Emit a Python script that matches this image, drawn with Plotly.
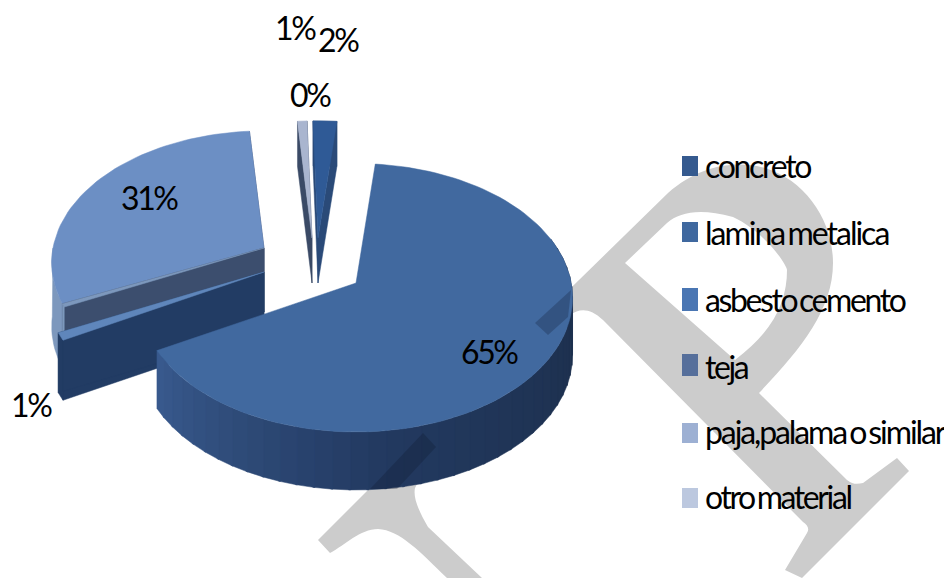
import math
import plotly.graph_objects as go

categories = ['concreto', 'lamina metalica', 'asbesto cemento', 'teja', 'paja,palama o similar', 'otro material']
values = [2, 65.4, 0.9, 0.4, 30.5, 0.8]
labels = ['2%', '65%', '1%', '0%', '31%', '1%']

legend_colors = ['#355a8f', '#3f689f', '#4a76b3', '#566f9b', '#9db0d3', '#bcc8df']
top_colors = ['#2f5a96', '#41699f', '#5f86bb', '#7d98bd', '#6c8fc4', '#a9b5cf']
cut_colors = ['#2a4a78', '#2a4672', '#223c64', '#3c4e6e', '#3c4e6e', '#3a4a66']
side_colors = ['#2a4a78', '#2a4672', '#223c64', '#7d98bd', '#7d98bd', '#3a4a66']

# where each slice was pulled to, in pixels, with its size and wall height
apex = [(318, 238), (356, 283), (264, 272), (264, 248), (264, 248), (312, 238)]
radius = [1, 1.02, 1.03, 1, 1, 1]
depth = [45, 58, 60, 64, 64, 45]

A, B, K, ROT = 211, 130, 0.11, -1.5
FONT = 'Lato'
PAGE_MARGIN = 8  # the page body keeps its default margin


def rim(ax, ay, deg, r=1):
    t = math.radians(deg)
    s = r / (1 + K * math.cos(t))
    return ax + A * math.sin(t) * s, ay - B * math.cos(t) * s


def poly(fig, pts, color):
    xs = [p[0] for p in pts] + [pts[0][0]]
    ys = [p[1] for p in pts] + [pts[0][1]]
    fig.add_trace(go.Scatter(x=xs, y=ys, mode='lines', fill='toself', fillcolor=color,
                             line=dict(color=color, width=0.5), hoverinfo='skip', showlegend=False))


def arc(ax, ay, d0, d1, r=1):
    n = max(2, int(abs(d1 - d0) / 2) + 1)
    return [rim(ax, ay, d0 + (d1 - d0) * i / (n - 1), r) for i in range(n)]


def mix(c0, c1, f):
    a = [int(c0[i:i + 2], 16) for i in (1, 3, 5)]
    b = [int(c1[i:i + 2], 16) for i in (1, 3, 5)]
    return '#%02x%02x%02x' % tuple(round(a[i] + (b[i] - a[i]) * f) for i in range(3))


# slice angles come from the values
angles = []
run = 0
for v in values:
    angles.append((run * 3.6 + ROT, (run + v) * 3.6 + ROT))
    run += v

fig = go.Figure()

# painter order, back to front
for i in [5, 0, 4, 3, 2]:
    ax, ay = apex[i]
    d0, d1 = angles[i]
    h = depth[i]
    r = radius[i]
    # cut faces
    for d in (d0, d1):
        x, y = rim(ax, ay, d, r)
        poly(fig, [(x, y), (x, y + h), (ax, ay + h), (ax, ay)], cut_colors[i])
    # outer wall
    if d0 < 270:
        wall = arc(ax, ay, d0, min(d1, 270), r)
        poly(fig, wall + [(x, y + h) for x, y in reversed(wall)], side_colors[i])
    poly(fig, [(ax, ay)] + arc(ax, ay, d0, d1, r), top_colors[i])

# lamina last, its wall shaded in strips
ax, ay = apex[1]
d0, d1 = angles[1]
h = depth[1]
r = radius[1]
w0, w1 = 70, d1
steps = 40
for j in range(steps):
    a0 = w0 + (w1 - w0) * j / steps
    a1 = w0 + (w1 - w0) * (j + 1) / steps + 0.5
    f = j / (steps - 1)
    col = mix('#1b2c47', '#22395f', f / 0.6) if f < 0.6 else mix('#22395f', '#38598d', (f - 0.6) / 0.4)
    wall = arc(ax, ay, a0, min(a1, w1), r)
    poly(fig, wall + [(x, y + h) for x, y in reversed(wall)], col)
poly(fig, [(ax, ay)] + arc(ax, ay, d0, d1, r), top_colors[1])

# watermark letter, behind the pie
watermark = ('M535,323 L668,193 C700,165 735,160 765,168 C805,180 833,220 833,263 '
             'C833,310 800,350 759,393 L847,480 C853,485 858,484 863,483 L897,458 L909,471 '
             'L802,578 L785,570 L807,533 C810,528 807,525 803,522 L603,320 C590,308 580,308 570,315 '
             'L548,335 L436,447 L415,488 C413,497 418,510 428,527 L482,578 L447,578 '
             'C420,552 400,530 378,529 C360,529 345,545 330,553 L318,540 Z '
             'M625,263 L735,360 C775,330 787,300 787,270 C787,265 765,232 733,217 '
             'C700,208 680,212 667,223 Z')
shapes = [dict(type='path', path=watermark, fillcolor='#cccccc', line_width=0, layer='below')]
# the two places where it shows through the pie
for p in ['M535,323 L548,335 L568,317 L571,290 Z', 'M423,433 L436,447 L397,489 L370,489 Z']:
    shapes.append(dict(type='path', path=p, fillcolor='rgba(10,20,40,0.25)', line_width=0, layer='above'))

# legend keys
key_y = [(156, 176), (222, 242), (288, 311), (354, 376), (423, 443), (488, 508)]
for (y0, y1), c in zip(key_y, legend_colors):
    shapes.append(dict(type='rect', x0=682, x1=698, y0=y0, y1=y1, fillcolor=c, line_width=0, layer='above'))


def txt(s, x, y, anchor='center', spacing=-2.4):
    style = 'letter-spacing:%spx;word-spacing:-3px' % spacing
    return dict(x=x, y=y, xref='x', yref='y', xanchor=anchor, yanchor='middle', showarrow=False,
                text='<span style="%s">%s</span>' % (style, s),
                font=dict(family=FONT, size=32, color='#000000'))


annotations = []
legend_spacing = [-2.3, -2.0, -2.4, -2.4, -2.1, -2.4]
for name, y, sp in zip(categories, [165, 232, 299, 366, 431, 496], legend_spacing):
    annotations.append(txt(name, 703, y, 'left', sp))
label_pos = [(338, 39), (489, 351), (31, 404), (310, 94), (149, 197), (295, 27)]
for s, (x, y) in zip(labels, label_pos):
    annotations.append(txt(s, x, y))

fig.update_layout(width=952 - PAGE_MARGIN, height=578 - PAGE_MARGIN, margin=dict(l=0, r=0, t=0, b=0),
                  paper_bgcolor='white', plot_bgcolor='white', showlegend=False,
                  shapes=shapes, annotations=annotations,
                  xaxis=dict(range=[PAGE_MARGIN, 952], visible=False, fixedrange=True),
                  yaxis=dict(range=[578, PAGE_MARGIN], visible=False, fixedrange=True))
fig.write_html("out.html")
